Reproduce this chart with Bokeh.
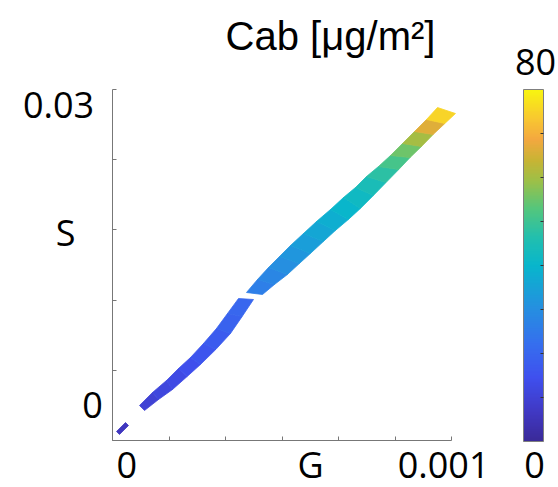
import numpy as np
from bokeh.plotting import figure
from bokeh.models import LinearColorMapper, ColorBar, FixedTicker, Range1d, ColumnDataSource, LinearAxis
from bokeh.transform import linear_cmap
from bokeh.core.properties import value
from bokeh.embed import file_html
from bokeh.resources import INLINE

# ---------------- data ----------------
# The scatter cloud is a band; it is described by stations along the band:
# edge A = upper-left edge, edge B = lower-right edge, cab = Cab value there.
tiny_a_g = [-32.4e-6, -4.0e-6]
tiny_a_s = [-0.0026, -0.0017]
tiny_b_g = [-22.9e-6, 5.5e-6]
tiny_b_s = [-0.0029, -0.0020]
tiny_cab = [5, 7]

low_a_g = [40.2e-6, 81.2e-6, 125.4e-6, 163.3e-6, 201.2e-6, 242.2e-6, 283.2e-6, 318.0e-6, 352.7e-6]
low_a_s = [0.0000, 0.0013, 0.0025, 0.0037, 0.0048, 0.0062, 0.0077, 0.0092, 0.0107]
low_b_g = [56.0e-6, 100.2e-6, 144.4e-6, 190.6e-6, 232.6e-6, 280.9e-6, 327.3e-6, 364.2e-6, 400.0e-6]
low_b_s = [-0.0005, 0.0006, 0.0016, 0.0029, 0.0041, 0.0056, 0.0072, 0.0089, 0.0106]
low_cab = [9, 10.5, 12, 13.5, 15, 16.5, 18, 19.5, 21]

up_a_g = [377.9e-6, 412.7e-6, 447.4e-6, 482.1e-6, 516.8e-6, 557.8e-6, 598.9e-6, 643.1e-6, 684.1e-6,
          722.0e-6, 756.7e-6, 794.6e-6, 832.4e-6, 870.3e-6, 908.2e-6, 946.1e-6, 980.8e-6]
up_a_s = [0.0113, 0.0126, 0.0138, 0.0149, 0.0160, 0.0172, 0.0184, 0.0196, 0.0208,
          0.0218, 0.0229, 0.0239, 0.0250, 0.0262, 0.0274, 0.0286, 0.0298]
up_b_g = [428.4e-6, 466.2e-6, 507.0e-6, 544.8e-6, 579.5e-6, 620.5e-6, 658.4e-6, 699.4e-6, 737.3e-6,
          778.3e-6, 818.3e-6, 858.4e-6, 894.3e-6, 930.1e-6, 967.0e-6, 1003.9e-6, 1037.6e-6]
up_b_s = [0.0111, 0.0121, 0.0131, 0.0142, 0.0152, 0.0164, 0.0175, 0.0186, 0.0197,
          0.0210, 0.0223, 0.0236, 0.0248, 0.0259, 0.0271, 0.0282, 0.0292]
up_cab = [25, 27, 29, 31, 33, 35, 37, 39, 41, 43, 46, 49, 53, 57, 63, 70, 80]

cab_low, cab_high = 0, 80
colorbar_ticks = [10, 20, 30, 40, 50, 60, 70]
title_text = "Cab [\u03bcg/m\u00b2]"
x_tick_labels = [(0.0, "0"), (0.001, "0.001")]
y_tick_labels = [(0.0, "0"), (0.03, "0.03")]
x_name, y_name = "G", "S"

# ---------------- palette (parula-like) ----------------
anchors = [(0.00, "#3a2a98"), (0.08, "#4038c2"), (0.18, "#3f50ee"), (0.28, "#3570ee"),
           (0.38, "#2590e0"), (0.50, "#08b6cc"), (0.58, "#22bfae"), (0.66, "#52c67e"),
           (0.74, "#9cc048"), (0.80, "#c8b434"), (0.86, "#f4a840"), (0.92, "#f8c830"),
           (1.00, "#f8f410")]
def hex2rgb(h):
    return [int(h[i:i + 2], 16) for i in (1, 3, 5)]
pos = [a[0] for a in anchors]
rgbs = np.array([hex2rgb(a[1]) for a in anchors], dtype=float)
palette = []
for t in np.linspace(0, 1, 256):
    c = [np.interp(t, pos, rgbs[:, k]) for k in range(3)]
    palette.append("#%02x%02x%02x" % tuple(int(round(v)) for v in c))

# ---------------- layout helpers (pixel <-> data) ----------------
W, H = 558, 487
def gx(px):
    return (px - 126.26) * 3.1563e-6
def sy(py):
    return (405 - py) * 1e-4

x_lo, x_hi = gx(112), gx(451)     # axis extent
y_lo, y_hi = sy(440), sy(89)

p = figure(width=W, height=H, output_backend="svg", toolbar_location=None,
           x_range=Range1d(gx(0), gx(W)), y_range=Range1d(sy(H), sy(0)),
           x_axis_type=None, y_axis_type=None,
           min_border=0, min_border_left=0, min_border_right=0, min_border_top=0, min_border_bottom=0)
p.outline_line_color = None
p.grid.visible = False
p.background_fill_color = "white"
p.border_fill_color = "white"

xax = LinearAxis(fixed_location=y_lo, bounds=(x_lo, x_hi),
                 ticker=FixedTicker(ticks=list(np.linspace(x_lo, x_hi, 7))))
yax = LinearAxis(fixed_location=x_lo, bounds=(y_lo, y_hi),
                 ticker=FixedTicker(ticks=list(np.linspace(y_lo, y_hi, 6))))
for ax in (xax, yax):
    ax.major_tick_in = 4
    ax.major_tick_out = 0
    ax.minor_tick_line_color = None
    ax.axis_line_color = "#777777"
    ax.major_tick_line_color = "#777777"
    ax.major_label_text_color = None
    ax.major_label_text_font_size = "1px"
    ax.major_label_standoff = 0
p.add_layout(xax, "below")
p.add_layout(yax, "left")

# build band patches
xs, ys, cs = [], [], []
for ag, as_, bg, bs, cab in ((tiny_a_g, tiny_a_s, tiny_b_g, tiny_b_s, tiny_cab),
                             (low_a_g, low_a_s, low_b_g, low_b_s, low_cab),
                             (up_a_g, up_a_s, up_b_g, up_b_s, up_cab)):
    for i in range(len(ag) - 1):
        xs.append([ag[i], ag[i + 1], bg[i + 1], bg[i]])
        ys.append([as_[i], as_[i + 1], bs[i + 1], bs[i]])
        cs.append((cab[i] + cab[i + 1]) / 2)
src = ColumnDataSource(dict(xs=xs, ys=ys, cab=cs))
cmap = linear_cmap("cab", palette, cab_low, cab_high)
p.patches("xs", "ys", source=src, fill_color=cmap, line_color=cmap, line_width=0.8)

# colour bar
mapper = LinearColorMapper(palette=palette, low=cab_low, high=cab_high)
cb = ColorBar(color_mapper=mapper, location=(523, H - 441), width=20, height=352, padding=0, margin=0,
              ticker=FixedTicker(ticks=colorbar_ticks), major_label_text_color=None,
              major_label_text_font_size="1px",
              major_tick_in=3, major_tick_out=0, major_tick_line_color="#333333",
              bar_line_color="#7f7f7f", bar_line_width=1, background_fill_alpha=0,
              border_line_color=None)
p.add_layout(cb, "center")

# texts (positions: baselines in screen pixels from the top)
FONT = value("Open Sans")
FS = value("36px")
tx = [x_tick_labels[0][0], gx(310), x_tick_labels[1][0], gx(534),
      gx(58), gx(92), gx(65), gx(535)]
ty = [sy(464), sy(464), sy(464), sy(464),
      sy(104), sy(404), sy(232), sy(61)]
tt = [x_tick_labels[0][1], x_name, x_tick_labels[1][1], str(cab_low),
      y_tick_labels[1][1], y_tick_labels[0][1], y_name, str(cab_high)]
p.text(x=tx, y=ty, text=tt, text_font=FONT, text_font_size=FS, text_align="center",
       text_baseline="alphabetic", text_color="black")
p.text(x=[gx(330)], y=[sy(35)], text=[title_text], text_font=value("Liberation Sans"),
       text_font_size=value("40px"), text_align="center", text_baseline="alphabetic",
       text_color="black")

open("out.html", "w").write(file_html(p, INLINE))
